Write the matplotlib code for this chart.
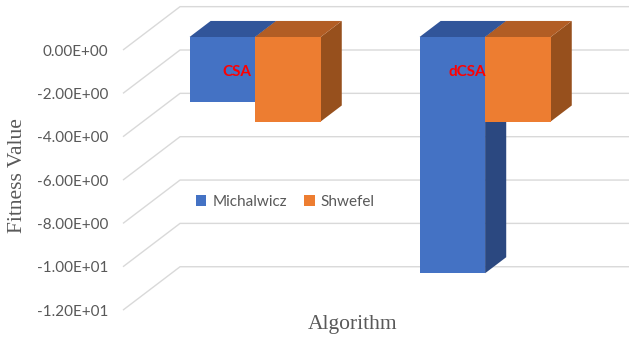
import matplotlib
matplotlib.use("Agg")
import matplotlib.pyplot as plt
from matplotlib.patches import Polygon
import numpy as np

# fitness per algorithm and benchmark function
algorithms = ["CSA", "dCSA"]
series = ["Michalwicz", "Shwefel"]
michalwicz = [-3.0, -10.9]
shwefel = [-3.9, -3.9]
yticks = [0, -2, -4, -6, -8, -10, -12]

front_colors = ["#4472C4", "#ED7D31"]
top_colors = ["#31559A", "#B25D24"]
side_colors = ["#2B4880", "#97501D"]

# oblique depth offset (x in category units, y in value units)
DX = 0.248
DY = 2.0
D0, D1 = 0.3, 0.67
width = 0.285
wall_left = -0.5


def proj(x, v, d):
    return (x + d * DX, v + d * DY)


fig = plt.figure(figsize=(6.29, 3.40), dpi=100)
ax = fig.add_axes([0, 0, 1, 1])
ax.set_xlim(-1.0348, 1.70)
ax.set_ylim(-13.38, 2.307)

# gridlines: front diagonal then along the back wall
for v in yticks:
    bx, by = proj(wall_left, v, 1.0)
    ax.plot([wall_left, bx, 1.70], [v, by, by], color="#D9D9D9", lw=1.0,
            zorder=1, solid_capstyle="butt")

x = np.arange(len(algorithms))
handles = []
for i in range(len(algorithms)):
    for j, vals in enumerate([michalwicz, shwefel]):
        val = vals[i]
        x0 = x[i] - width + j * width
        x1 = x0 + width
        side = Polygon([proj(x1, 0, D0), proj(x1, val, D0),
                        proj(x1, val, D1), proj(x1, 0, D1)],
                       closed=True, facecolor=side_colors[j], edgecolor="none",
                       zorder=2 + i * 3 + j * 1.5)
        top = Polygon([proj(x0, 0, D0), proj(x1, 0, D0),
                       proj(x1, 0, D1), proj(x0, 0, D1)],
                      closed=True, facecolor=top_colors[j], edgecolor="none",
                      zorder=2 + i * 3 + j * 1.5)
        ax.add_patch(side)
        ax.add_patch(top)
        b = ax.bar(x0 + D0 * DX, val, width, bottom=D0 * DY, align="edge",
                   color=front_colors[j], zorder=2.5 + i * 3 + j * 1.5,
                   label=series[j] if i == 0 else None)
        if i == 0:
            handles.append(b)

for i, name in enumerate(algorithms):
    ax.text(x[i] - 0.005, -1.02, name, color="#FF0000", fontsize=11,
            fontweight="bold", family="Lato", ha="center", va="center",
            zorder=20)

# value axis at the front-left edge of the wall
for s in ["top", "right", "bottom"]:
    ax.spines[s].set_visible(False)
ax.spines["left"].set_position(("data", wall_left))
ax.spines["left"].set_visible(False)
ax.set_yticks(yticks)
ax.set_yticklabels([f"{v:.2E}" for v in yticks])
ax.tick_params(axis="y", length=0, pad=10.8, labelsize=11, labelcolor="#595959")
for lab in ax.get_yticklabels():
    lab.set_family("Lato")
ax.set_xticks([])

leg = ax.legend(handles=handles, loc="center left",
                bbox_to_anchor=(182 / 629, 1 - 202 / 340), ncol=2,
                frameon=False, handlelength=0.7, handleheight=0.7,
                handletextpad=0.4, columnspacing=1.1,
                prop={"family": "Lato", "size": 11})
for t in leg.get_texts():
    t.set_color("#595959")

fig.text(18 / 629, 1 - 176 / 340, "Fitness Value", rotation=90,
         ha="center", va="center", fontsize=15.5, family="Liberation Serif",
         color="#595959")
fig.text(353 / 629, 1 - 325 / 340, "Algorithm", ha="center", va="center",
         fontsize=15.5, family="Liberation Serif", color="#595959")

fig.savefig("out.png", dpi=100)
